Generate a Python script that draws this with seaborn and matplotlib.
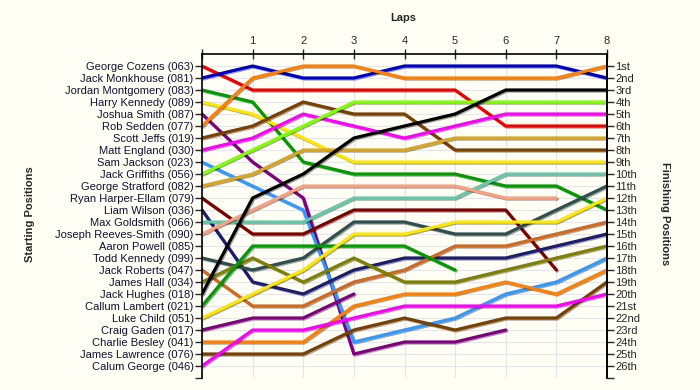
import matplotlib
matplotlib.use("Agg")
import matplotlib.pyplot as plt
import matplotlib.patheffects as pe
import pandas as pd
import seaborn as sns

# starting grid, top to bottom
drivers = [
    "George Cozens (063)", "Jack Monkhouse (081)", "Jordan Montgomery (083)",
    "Harry Kennedy (089)", "Joshua Smith (087)", "Rob Sedden (077)",
    "Scott Jeffs (019)", "Matt England (030)", "Sam Jackson (023)",
    "Jack Griffiths (056)", "George Stratford (082)", "Ryan Harper-Ellam (079)",
    "Liam Wilson (036)", "Max Goldsmith (066)", "Joseph Reeves-Smith (090)",
    "Aaron Powell (085)", "Todd Kennedy (099)", "Jack Roberts (047)",
    "James Hall (034)", "Jack Hughes (018)", "Callum Lambert (021)",
    "Luke Child (051)", "Craig Gaden (017)", "Charlie Besley (041)",
    "James Lawrence (076)", "Calum George (046)",
]

laps = [0, 1, 2, 3, 4, 5, 6, 7, 8]

# position at the end of each lap (lap 0 = grid), None once retired
positions = [
    [1, 3, 3, 3, 3, 3, 6, 6, 6],
    [2, 1, 2, 2, 1, 1, 1, 1, 2],
    [3, 4, 9, 10, 10, 10, 11, 11, 13],
    [4, 5, 7, 9, 9, 9, 9, 9, 9],
    [5, 9, 12, 25, 24, 24, 23, None, None],
    [6, 2, 1, 1, 2, 2, 2, 2, 1],
    [7, 6, 4, 5, 5, 8, 8, 8, 8],
    [8, 7, 5, 6, 7, 6, 5, 5, 5],
    [9, 11, 13, 24, 23, 22, 20, 19, 17],
    [10, 8, 6, 4, 4, 4, 4, 4, 4],
    [11, 10, 8, 8, 8, 7, 7, 7, 7],
    [12, 15, 15, 13, 13, 13, 13, 18, None],
    [13, 19, 20, 18, 17, 17, 17, 16, 15],
    [14, 14, 14, 12, 12, 12, 10, 10, 10],
    [15, 13, 11, 11, 11, 11, 12, 12, None],
    [None] * 9,
    [17, 18, 17, 14, 14, 15, 15, 13, 11],
    [18, 21, 21, 19, 18, 16, 16, 15, 14],
    [19, 17, 19, 17, 19, 19, 18, 17, 16],
    [20, 12, 10, 7, 6, 5, 3, 3, 3],
    [21, 16, 16, 16, 16, 18, None, None, None],
    [22, 20, 18, 15, 15, 14, 14, 14, 12],
    [23, 22, 22, 20, None, None, None, None, None],
    [24, 24, 24, 21, 20, 20, 19, 20, 18],
    [25, 25, 25, 23, 22, 23, 22, 22, 19],
    [26, 23, 23, 22, 21, 21, 21, 21, 20],
]

colours = [
    "#ee0000", "#0000cc", "#009c00", "#ffe800", "#800080", "#ff8000",
    "#7a4000", "#ff00ff", "#3399ff", "#80ff00", "#daa520", "#800000",
    "#1c1c70", "#66c8aa", "#f8a080", "#888888", "#2f4f4f", "#d2691e",
    "#808000", "#000000", "#009c00", "#ffe800", "#800080", "#ff8000",
    "#7a4000", "#ff00ff",
]

finish_labels = ["1st", "2nd", "3rd"] + [f"{i}th" for i in range(4, 21)] + \
    ["21st", "22nd", "23rd", "24th", "25th", "26th"]

rows = []
for d, ps in zip(drivers, positions):
    for lap, p in zip(laps, ps):
        if p is not None:
            rows.append({"driver": d, "lap": lap, "position": p})
df = pd.DataFrame(rows)

present = [d for d in drivers if d in set(df["driver"])]
palette = {d: c for d, c in zip(drivers, colours) if d in present}

sns.set_style("white")
plt.rcParams["font.family"] = ["Liberation Sans", "DejaVu Sans"]
plt.rcParams["font.size"] = 8

bg = "#fffff6"
fig = plt.figure(figsize=(7, 3.9), dpi=100, facecolor=bg)
ax = fig.add_axes([202 / 700, 1 - 378 / 390, 405 / 700, 324 / 390])
ax.set_facecolor(bg)

sns.lineplot(data=df, x="lap", y="position", hue="driver", hue_order=present,
             palette=palette, estimator=None, sort=False, legend=False,
             lw=2.3, ax=ax)
for line in ax.lines:
    line.set_path_effects([pe.SimpleLineShadow(offset=(0.8, -0.8), shadow_color="k", alpha=0.35),
                           pe.Normal()])
    line.set_solid_joinstyle("round")

ax.set_xlim(0, 8)
ax.set_ylim(27, 0)
ax.set_xlabel("")
ax.set_ylabel("")

ax.xaxis.tick_top()
ax.set_xticks(laps)
ax.set_xticklabels([""] + [str(l) for l in laps[1:]])
ax.tick_params(axis="x", direction="inout", length=7, width=1, pad=2, labelsize=8)

ax.set_yticks(list(range(1, 28)))
ax.set_yticklabels(drivers + [""], color="#101030")
ax.tick_params(axis="y", direction="out", length=5, width=1, pad=1, labelsize=8)

ax.grid(True, color="#e6e6e6", lw=0.8)
ax.set_axisbelow(True)
for side in ["top", "left", "right"]:
    ax.spines[side].set_visible(True)
    ax.spines[side].set_color("black")
    ax.spines[side].set_linewidth(1.2)
ax.spines["bottom"].set_visible(False)

ax2 = ax.twinx()
ax2.set_ylim(27, 0)
ax2.set_yticks(list(range(1, 28)))
ax2.set_yticklabels(finish_labels + [""])
ax2.tick_params(axis="y", direction="out", length=5, width=1, pad=1, labelsize=8)
for side in ["top", "left", "bottom"]:
    ax2.spines[side].set_visible(False)
ax2.spines["right"].set_linewidth(1.2)
ax2.spines["right"].set_color("black")

fig.text(403 / 700, 1 - 18 / 390, "Laps", ha="center", va="center",
         fontsize=8, fontweight="bold")
fig.text(30 / 700, 1 - 214 / 390, "Starting Positions", ha="center", va="center",
         rotation=90, fontsize=8, fontweight="bold")
fig.text(665 / 700, 1 - 214 / 390, "Finishing Positions", ha="center", va="center",
         rotation=270, fontsize=8, fontweight="bold")

fig.savefig("out.png", dpi=100, facecolor=bg)
